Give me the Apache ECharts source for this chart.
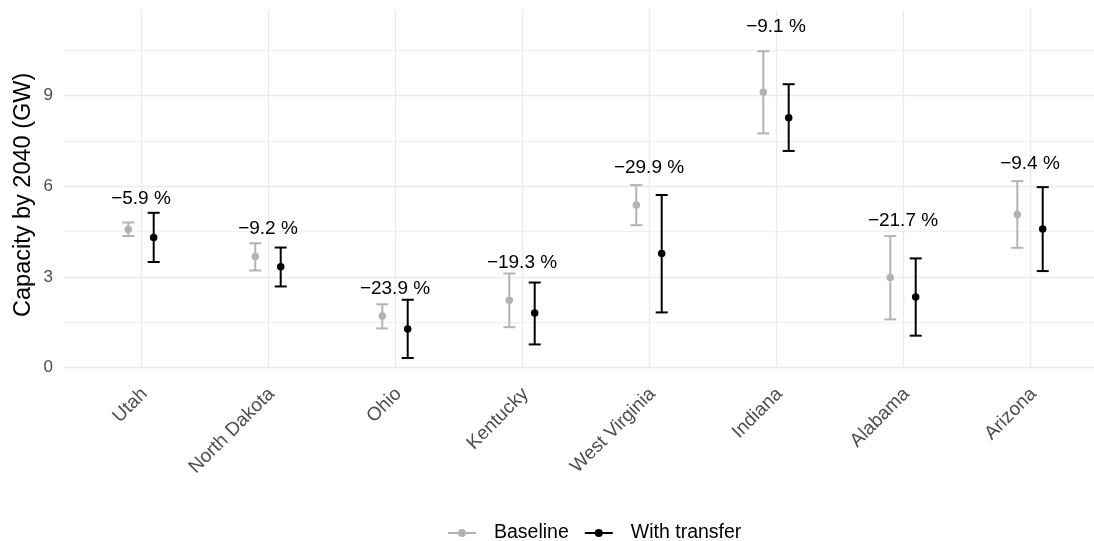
<!DOCTYPE html>
<html>
<head>
<meta charset="utf-8">
<script src="https://cdn.jsdelivr.net/npm/echarts@6/dist/echarts.min.js"></script>
<style>
  html, body { margin: 0; padding: 0; background: #fff; }
  #chart { width: 1094px; height: 541px; }
</style>
</head>
<body>
<div id="chart"></div>
<script>
// states on the x axis
var states = ['Utah', 'North Dakota', 'Ohio', 'Kentucky', 'West Virginia', 'Indiana', 'Alabama', 'Arizona'];

// baseline capacity (GW) with range
var baseMid  = [4.58, 3.68, 1.71, 2.23, 5.39, 9.12, 2.99, 5.07];
var baseLow  = [4.36, 3.22, 1.30, 1.34, 4.72, 7.76, 1.60, 3.97];
var baseHigh = [4.81, 4.12, 2.10, 3.12, 6.05, 10.48, 4.36, 6.18];

// with transfer
var transMid  = [4.31, 3.34, 1.28, 1.81, 3.78, 8.28, 2.34, 4.59];
var transLow  = [3.50, 2.69, 0.32, 0.77, 1.83, 7.18, 1.06, 3.20];
var transHigh = [5.13, 3.98, 2.25, 2.82, 5.72, 9.39, 3.62, 5.98];

// change labels and where they sit
var changeLabels = ['\u22125.9 %', '\u22129.2 %', '\u221223.9 %', '\u221219.3 %', '\u221229.9 %', '\u22129.1 %', '\u221221.7 %', '\u22129.4 %'];
var labelY = [5.58, 4.59, 2.61, 3.49, 6.62, 11.30, 4.85, 6.74];

var GREY = '#b3b3b3';
var GRID = '#ebebeb';
var TXT = '#4d4d4d';
var FONT = 'Liberation Sans, Arial, sans-serif';
var DODGE = 0.1; // fraction of band width

function errorBarSeries(name, low, high, color, side) {
  return {
    name: name,
    type: 'custom',
    xAxisIndex: 1,
    yAxisIndex: 1,
    z: 3,
    data: low.map(function (v, i) { return [i, v, high[i]]; }),
    renderItem: function (params, api) {
      var lo = api.coord([api.value(0), api.value(1)]);
      var hi = api.coord([api.value(0), api.value(2)]);
      var x = lo[0] + side * api.size([1, 0])[0] * DODGE;
      var hw = 6;
      var st = { stroke: color, lineWidth: 2 };
      return {
        type: 'group',
        children: [
          { type: 'line', shape: { x1: x, y1: lo[1], x2: x, y2: hi[1] }, style: st },
          { type: 'line', shape: { x1: x - hw, y1: lo[1], x2: x + hw, y2: lo[1] }, style: st },
          { type: 'line', shape: { x1: x - hw, y1: hi[1], x2: x + hw, y2: hi[1] }, style: st }
        ]
      };
    }
  };
}

function pointSeries(name, mid, color, side) {
  return {
    name: name,
    type: 'line',
    xAxisIndex: 1,
    yAxisIndex: 1,
    z: 4,
    data: mid,
    symbol: 'circle',
    symbolSize: 7.5,
    symbolOffset: [side * 127 * DODGE, 0],
    showSymbol: true,
    itemStyle: { color: color },
    lineStyle: { opacity: 0, color: color },
    emphasis: { disabled: true }
  };
}

var chart = echarts.init(document.getElementById('chart'));

chart.setOption({
  animation: false,
  backgroundColor: '#fff',
  textStyle: { fontFamily: FONT },
  grid: [
    // panel for the horizontal grid lines and y labels
    { left: 64, right: 0, top: 50.3, bottom: 173.3 },
    // data panel
    { left: 77.5, right: 0.5, top: 16, bottom: 167.3 }
  ],
  xAxis: [
    { type: 'value', gridIndex: 0, show: false, min: 0, max: 1 },
    {
      type: 'category',
      gridIndex: 1,
      data: states,
      boundaryGap: true,
      axisLine: { show: false },
      axisTick: {
        show: true, inside: true, length: 357.7, alignWithLabel: true,
        lineStyle: { color: GRID, width: 1.4 }
      },
      axisLabel: {
        interval: 0, rotate: 45, margin: 21,
        padding: [0, -5, 0, 0],
        color: TXT, fontSize: 19
      },
      splitLine: { show: false }
    }
  ],
  yAxis: [
    {
      type: 'value',
      gridIndex: 0,
      min: 0,
      max: 10.5,
      interval: 1.5,
      axisLine: { show: false },
      axisTick: { show: false },
      axisLabel: {
        color: TXT, fontSize: 17, margin: 11,
        formatter: function (v) { return v % 3 === 0 ? String(v) : ''; }
      },
      splitLine: {
        show: true,
        lineStyle: { color: [GRID, '#f1f1f1'], width: 1.4 }
      }
    },
    {
      type: 'value',
      gridIndex: 1,
      min: -0.2,
      max: 11.65,
      name: 'Capacity by 2040 (GW)',
      nameLocation: 'middle',
      nameGap: 42,
      nameTextStyle: { color: '#000', fontSize: 23.5 },
      axisLine: { show: false },
      axisTick: { show: false },
      axisLabel: { show: false },
      splitLine: { show: false }
    }
  ],
  legend: {
    top: 518,
    left: 442,
    itemWidth: 28,
    itemHeight: 10,
    itemGap: 15,
    textStyle: { color: '#000', fontSize: 19.5, padding: [0, 0, 0, 13] },
    data: [
      { name: 'Baseline', lineStyle: { opacity: 1, width: 2 } },
      { name: 'With transfer', lineStyle: { opacity: 1, width: 2 } }
    ]
  },
  series: [
    {
      // empty series so the background panel axes get laid out
      name: 'panel',
      type: 'line',
      xAxisIndex: 0,
      yAxisIndex: 0,
      data: [],
      silent: true
    },
    errorBarSeries('Baseline bars', baseLow, baseHigh, GREY, -1),
    errorBarSeries('Transfer bars', transLow, transHigh, '#000', 1),
    pointSeries('Baseline', baseMid, GREY, -1),
    pointSeries('With transfer', transMid, '#000', 1),
    {
      name: 'Change',
      type: 'custom',
      xAxisIndex: 1,
      yAxisIndex: 1,
      z: 5,
      data: labelY.map(function (v, i) { return [i, v]; }),
      renderItem: function (params, api) {
        var p = api.coord([api.value(0), api.value(1)]);
        return {
          type: 'text',
          x: p[0],
          y: p[1],
          style: {
            text: changeLabels[params.dataIndex],
            fill: '#000',
            fontSize: 19,
            fontFamily: FONT,
            align: 'center',
            verticalAlign: 'middle'
          }
        };
      }
    }
  ]
});
</script>
</body>
</html>
